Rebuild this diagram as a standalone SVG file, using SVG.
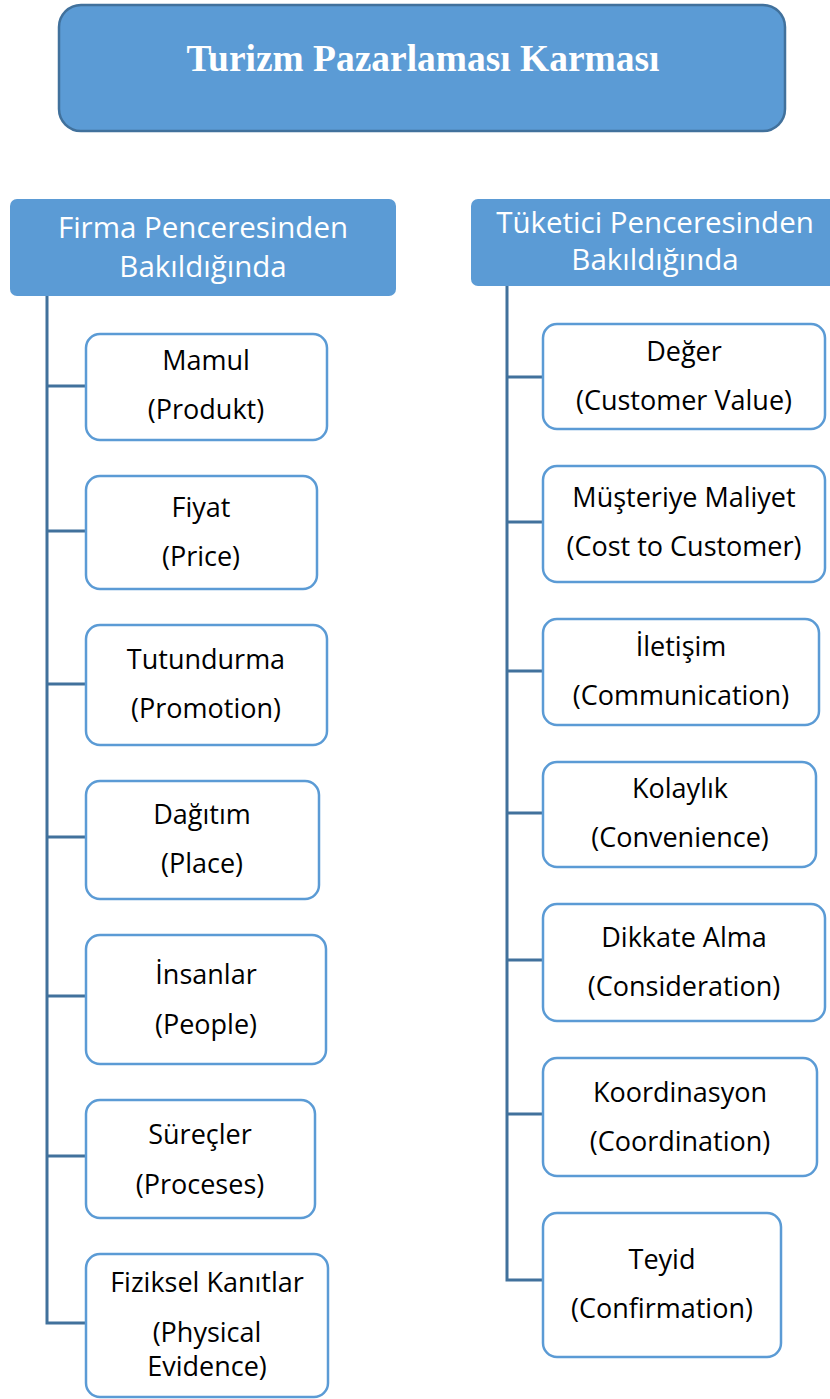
<svg xmlns="http://www.w3.org/2000/svg" width="830" height="1399" viewBox="0 0 830 1399">
<style>
.hd{fill:#5B9BD5}
.bx{fill:#fff;stroke:#5B9BD5;stroke-width:2.5}
.t{font-family:"Open Sans","Noto Sans",sans-serif;font-size:27px;fill:#000;text-anchor:middle}
.ht{font-family:"Open Sans","Noto Sans",sans-serif;font-size:29.5px;fill:#fff;text-anchor:middle}
.cn{fill:none;stroke:#41719C;stroke-width:3}
</style>
<rect width="830" height="1399" fill="#fff"/>
<g id="title">
<rect x="59" y="5" width="726" height="126" rx="22" fill="#5B9BD5" stroke="#41719C" stroke-width="2.5"/>
<text x="423" y="71" font-family="Liberation Serif,serif" font-weight="bold" font-size="38" fill="#fff" text-anchor="middle" textLength="473" lengthAdjust="spacingAndGlyphs">Turizm Pazarlaması Karması</text>
</g>
<g id="connectors">
<path class="cn" d="M47 296 V1323 H86 M47 386 H86 M47 531 H86 M47 684 H86 M47 837 H86 M47 996 H86 M47 1156 H86"/>
<path class="cn" d="M507 286 V1280 H543 M507 377 H543 M507 522 H543 M507 671 H543 M507 813 H543 M507 960 H543 M507 1114 H543"/>
</g>
<g id="firma">
<rect class="hd" x="10" y="199" width="386" height="97" rx="7"/>
<text class="ht" x="203" y="238">Firma Penceresinden</text>
<text class="ht" x="203" y="277">Bakıldığında</text>
</g>
<g id="tuketici">
<rect class="hd" x="471" y="199" width="365" height="87" rx="7"/>
<text class="ht" x="655" y="233">Tüketici Penceresinden</text>
<text class="ht" x="655" y="270">Bakıldığında</text>
</g>
<g id="mamul"><rect class="bx" x="86" y="334" width="241" height="106" rx="14"/><text class="t" x="206" y="370">Mamul</text><text class="t" x="206" y="419">(Produkt)</text></g>
<g id="fiyat"><rect class="bx" x="86" y="476" width="231" height="113" rx="14"/><text class="t" x="201" y="517">Fiyat</text><text class="t" x="201" y="566">(Price)</text></g>
<g id="tutundurma"><rect class="bx" x="86" y="625" width="241" height="120" rx="14"/><text class="t" x="206" y="669">Tutundurma</text><text class="t" x="206" y="718">(Promotion)</text></g>
<g id="dagitim"><rect class="bx" x="86" y="781" width="233" height="118" rx="14"/><text class="t" x="202" y="824">Dağıtım</text><text class="t" x="202" y="873">(Place)</text></g>
<g id="insanlar"><rect class="bx" x="86" y="935" width="240" height="129" rx="14"/><text class="t" x="206" y="984">İnsanlar</text><text class="t" x="206" y="1034">(People)</text></g>
<g id="surecler"><rect class="bx" x="86" y="1100" width="229" height="118" rx="14"/><text class="t" x="200" y="1144">Süreçler</text><text class="t" x="200" y="1194">(Proceses)</text></g>
<g id="fiziksel"><rect class="bx" x="86" y="1254" width="242" height="143" rx="14"/><text class="t" x="207" y="1292">Fiziksel Kanıtlar</text><text class="t" x="207" y="1342">(Physical</text><text class="t" x="207" y="1376">Evidence)</text></g>
<g id="deger"><rect class="bx" x="543" y="324" width="282" height="105" rx="14"/><text class="t" x="684" y="361">Değer</text><text class="t" x="684" y="410">(Customer Value)</text></g>
<g id="maliyet"><rect class="bx" x="543" y="466" width="282" height="116" rx="14"/><text class="t" x="684" y="507">Müşteriye Maliyet</text><text class="t" x="684" y="556">(Cost to Customer)</text></g>
<g id="iletisim"><rect class="bx" x="543" y="619" width="276" height="106" rx="14"/><text class="t" x="681" y="656">İletişim</text><text class="t" x="681" y="705">(Communication)</text></g>
<g id="kolaylik"><rect class="bx" x="543" y="762" width="273" height="105" rx="14"/><text class="t" x="680" y="798">Kolaylık</text><text class="t" x="680" y="847">(Convenience)</text></g>
<g id="dikkate"><rect class="bx" x="543" y="904" width="282" height="117" rx="14"/><text class="t" x="684" y="947">Dikkate Alma</text><text class="t" x="684" y="996">(Consideration)</text></g>
<g id="koordinasyon"><rect class="bx" x="543" y="1058" width="274" height="118" rx="14"/><text class="t" x="680" y="1102">Koordinasyon</text><text class="t" x="680" y="1151">(Coordination)</text></g>
<g id="teyid"><rect class="bx" x="543" y="1213" width="238" height="144" rx="14"/><text class="t" x="662" y="1269">Teyid</text><text class="t" x="662" y="1318">(Confirmation)</text></g>
</svg>
